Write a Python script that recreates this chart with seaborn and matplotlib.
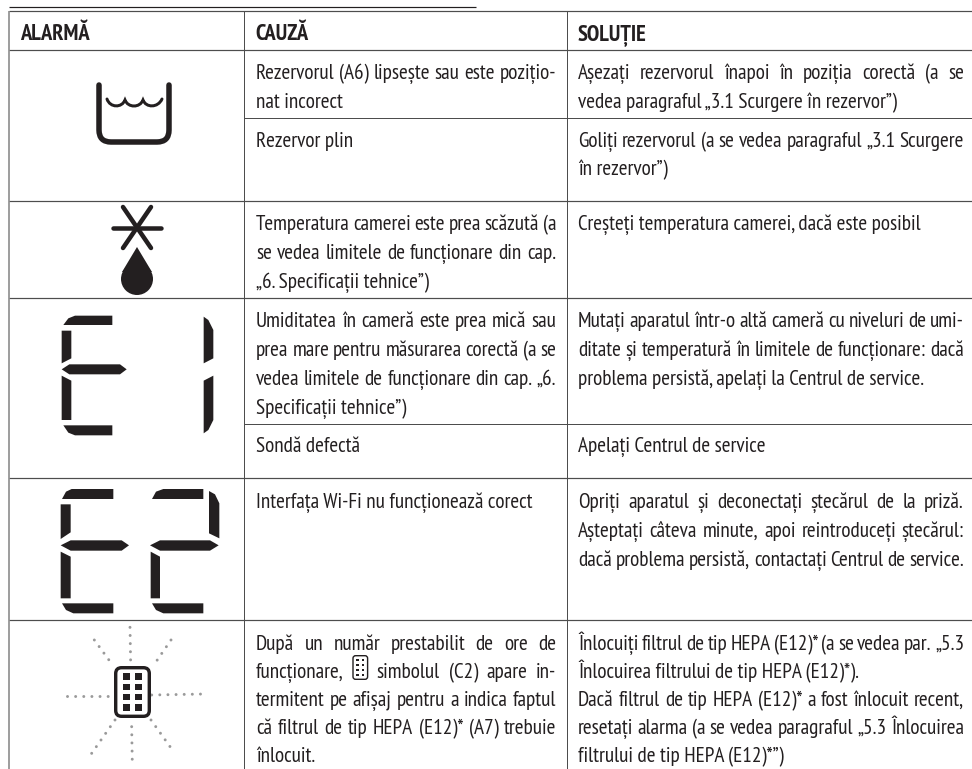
import matplotlib
matplotlib.use('Agg')
import matplotlib.pyplot as plt
from matplotlib.patches import Polygon, Circle, FancyBboxPatch, Rectangle, PathPatch
from matplotlib.path import Path
import seaborn as sns

FONT = ['PT Sans Narrow', 'Fira Sans Condensed', 'Open Sans', 'DejaVu Sans']
INK = '#231f20'
RULE = '#4d4d4d'
W, H = 972, 769

# table structure
COL_X = [9, 244, 567]
HEADERS = ['ALARMĂ', 'CAUZĂ', 'SOLUȚIE']
ROW_Y_FULL = [11, 50, 201, 298, 478, 620]   # rules over the whole table
ROW_Y_PART = [118, 424]                     # rules over cause/solution only

# (baseline of first line, line step, [(line, justified)])
CAUSES = [
    (79, 29, [('Rezervorul (A6) lipsește sau este pozițio-', True), ('nat incorect', False)]),
    (147, 28, [('Rezervor plin', False)]),
    (230, 29, [('Temperatura camerei este prea scăzută (a', True),
               ('se vedea limitele de funcționare din cap.', True),
               ('„6. Specificații tehnice”)', False)]),
    (327, 29, [('Umiditatea în cameră este prea mică sau', True),
               ('prea mare pentru măsurarea corectă (a se', True),
               ('vedea limitele de funcționare din cap. „6.', True),
               ('Specificații tehnice”)', False)]),
    (452, 28, [('Sondă defectă', False)]),
    (508, 29, [('Interfața Wi-Fi nu funcționează corect', False)]),
    (650, 28, [('După un număr prestabilit de ore de', True),
               ('funcționare, @ simbolul (C2) apare in-', True),
               ('termitent pe afișaj pentru a indica faptul', True),
               ('că filtrul de tip HEPA (E12)* (A7) trebuie', True),
               ('înlocuit.', False)]),
]
SOLUTIONS = [
    (79, 29, [('Așezați rezervorul înapoi în poziția corectă (a se', True),
              ('vedea paragraful „3.1 Scurgere în rezervor”)', False)]),
    (147, 28, [('Goliți rezervorul (a se vedea paragraful „3.1 Scurgere', True),
               ('în rezervor”)', False)]),
    (230, 29, [('Creșteți temperatura camerei, dacă este posibil', False)]),
    (327, 29, [('Mutați aparatul într-o altă cameră cu niveluri de umi-', True),
               ('ditate și temperatură în limitele de funcționare: dacă', True),
               ('problema persistă, apelați la Centrul de service.', False)]),
    (452, 28, [('Apelați Centrul de service', False)]),
    (508, 29, [('Opriți aparatul și deconectați ștecărul de la priză.', True),
               ('Așteptați câteva minute, apoi reintroduceți ștecărul:', True),
               ('dacă problema persistă, contactați Centrul de service.', True)]),
    (650, 28, [('Înlocuiți filtrul de tip HEPA (E12)* (a se vedea par. „5.3', True),
               ('Înlocuirea filtrului de tip HEPA (E12)*).', False),
               ('Dacă filtrul de tip HEPA (E12)* a fost înlocuit recent,', True),
               ('resetați alarma (a se vedea paragraful „5.3 Înlocuirea', True),
               ('filtrului de tip HEPA (E12)*”)', False)]),
]

# seven segment icons, traced at 3x in crop coordinates
E1 = [[(190,405),(205,385),(225,377),(337,377),(337,405)],
      [(185,422),(214,422),(214,505),(185,520)],
      [(185,538),(208,523),(360,523),(380,538),(360,553),(208,553)],
      [(185,557),(214,572),(214,690),(185,690)],
      [(190,706),(337,706),(337,736),(225,736),(205,728)],
      [(611,380),(625,390),(640,420),(640,505),(611,520)],
      [(611,572),(640,557),(640,690),(625,720),(611,730)]]
E2 = [[(96,72),(108,50),(125,42),(250,42),(250,72)],
      [(92,88),(122,88),(122,172),(92,192)],
      [(92,211),(122,196),(275,196),(297,211),(275,227),(122,227)],
      [(92,230),(122,245),(122,370),(92,370)],
      [(96,385),(250,385),(250,415),(130,415),(108,405)],
      [(366,72),(378,50),(400,42),(520,42),(520,72)],
      [(537,48),(555,58),(568,85),(568,190),(537,175)],
      [(360,211),(390,196),(540,196),(566,211),(540,227),(390,227)],
      [(362,230),(390,245),(390,370),(362,370)],
      [(366,385),(520,385),(520,415),(400,415),(378,405)]]
RAYS = [((210,22),(212,130)), ((103,60),(160,138)), ((333,60),(278,140)),
        ((20,228),(160,228)), ((275,225),(435,222)), ((215,320),(217,435)),
        ((165,300),(95,400)), ((273,300),(343,398))]

sns.set_theme(style='white')
plt.rcParams['font.family'] = FONT

fig = plt.figure(figsize=(W / 100, H / 100), dpi=100)
ax = fig.add_axes([0, 0, 1, 1])
ax.set_xlim(0, W)
ax.set_ylim(H, 0)
ax.axis('off')
renderer = fig.canvas.get_renderer()


def px(v):
    return v * 0.72


def put_word(x, y, s, **kw):
    return ax.text(x, y, s, va='baseline', ha='left', color=INK, **kw)


def text_width(s, **kw):
    t = put_word(0, 0, s, **kw)
    w = t.get_window_extent(renderer).width
    t.remove()
    return w


def draw_filter(x0, y0, x1, y1, lw, cell, gap_x, gap_y):
    ax.add_patch(FancyBboxPatch((x0 + lw / 2, y0 + lw / 2), x1 - x0 - lw, y1 - y0 - lw,
                                boxstyle='round,pad=0,rounding_size=%.1f' % ((x1 - x0) * 0.16),
                                fc='white', ec=INK, lw=px(lw), zorder=4))
    cx = (x0 + x1) / 2
    cy = (y0 + y1) / 2
    for i in (-1, 1):
        for j in (-1.5, -0.5, 0.5, 1.5):
            ax.add_patch(Rectangle((cx + i * gap_x / 2 - cell / 2, cy + j * gap_y - cell / 2),
                                   cell, cell, fc=INK, ec='none', zorder=5))


# font sizes fitted to measured widths, so a fallback family still fits the cells
BODY = 12 * 319 / text_width('vedea paragraful „3.1 Scurgere în rezervor”)', fontsize=12)
HEAD = 12 * 70 / text_width('ALARMĂ', fontsize=12, fontweight='bold')


def draw_line(x, y, line, right, justified):
    words = line.split(' ')
    if not justified and '@' not in line:
        put_word(x, y, line, fontsize=BODY)
        return
    widths = [16 if w == '@' else text_width(w, fontsize=BODY) for w in words]
    gap = (right - x - sum(widths)) / max(len(words) - 1, 1)
    cur = x
    for w, wd in zip(words, widths):
        if w == '@':
            draw_filter(cur, y - 23, cur + 16, y + 2, 1.4, 2.6, 5.5, 5)
        else:
            put_word(cur, y, w, fontsize=BODY)
        cur += wd + gap


# rules
for y in ROW_Y_FULL:
    ax.hlines(y, COL_X[0], W, color=RULE, lw=px(1.2))
for y in ROW_Y_PART:
    ax.hlines(y, COL_X[1], W, color=RULE, lw=px(1))
ax.vlines(COL_X[0], ROW_Y_FULL[0], H, color='#808080', lw=px(1.5))
for x in COL_X[1:]:
    ax.vlines(x, ROW_Y_FULL[0], H, color=RULE, lw=px(1))
ax.hlines(7, COL_X[0], 476, color=INK, lw=px(1.2))

# headers
for x, h in zip(COL_X, HEADERS):
    put_word(x + 11, 40, h, fontsize=HEAD, fontweight='bold')

# body text
for cells, x, right in ((CAUSES, 256, 556), (SOLUTIONS, 578, 964)):
    for y0, step, lines in cells:
        for i, (line, just) in enumerate(lines):
            draw_line(x, y0 + i * step, line, right, just)

# tub icon
tub = Path([(99, 85), (99, 130), (99, 142), (111, 142), (157, 142), (169, 142), (169, 130), (169, 85)],
           [Path.MOVETO, Path.LINETO, Path.CURVE3, Path.CURVE3, Path.LINETO, Path.CURVE3, Path.CURVE3, Path.LINETO])
ax.add_patch(PathPatch(tub, fc='none', ec=INK, lw=px(5.5), capstyle='round', joinstyle='round'))
wave = Path([(107, 99), (110, 108), (122, 108), (125, 100), (128, 108), (140, 108), (143, 100),
             (146, 108), (158, 108), (162, 99)],
            [Path.MOVETO] + [Path.CURVE4] * 9)
ax.add_patch(PathPatch(wave, fc='none', ec=INK, lw=px(3), capstyle='round'))

# frost icon
for p, q in (((113, 228), (161, 228)), ((123, 207), (151, 248)), ((151, 207), (123, 248))):
    ax.plot([p[0], q[0]], [p[1], q[1]], color=INK, lw=px(4.5), solid_capstyle='round')
ax.add_patch(Circle((137, 279), 16, fc=INK, ec='none'))
ax.add_patch(Polygon([(137, 247), (122, 272), (152, 272)], fc=INK, ec='none'))

# segment displays
for poly in E1:
    ax.add_patch(Polygon([(x / 3, y / 3 + 190) for x, y in poly], fc=INK, ec='none'))
for poly in E2:
    ax.add_patch(Polygon([(x / 3 + 30, y / 3 + 475) for x, y in poly], fc=INK, ec='none'))

# filter icon with blinking rays
for p, q in RAYS:
    ax.plot([p[0] / 3 + 60, q[0] / 3 + 60], [p[1] / 3 + 620, q[1] / 3 + 620], color='#9a9a9a', lw=px(3),
            linestyle=(0, (0.01, 2.7)), dash_capstyle='round')
draw_filter(114, 666, 151, 718, 3.4, 6.5, 11.7, 10.3)

fig.savefig('out.png', dpi=100)
